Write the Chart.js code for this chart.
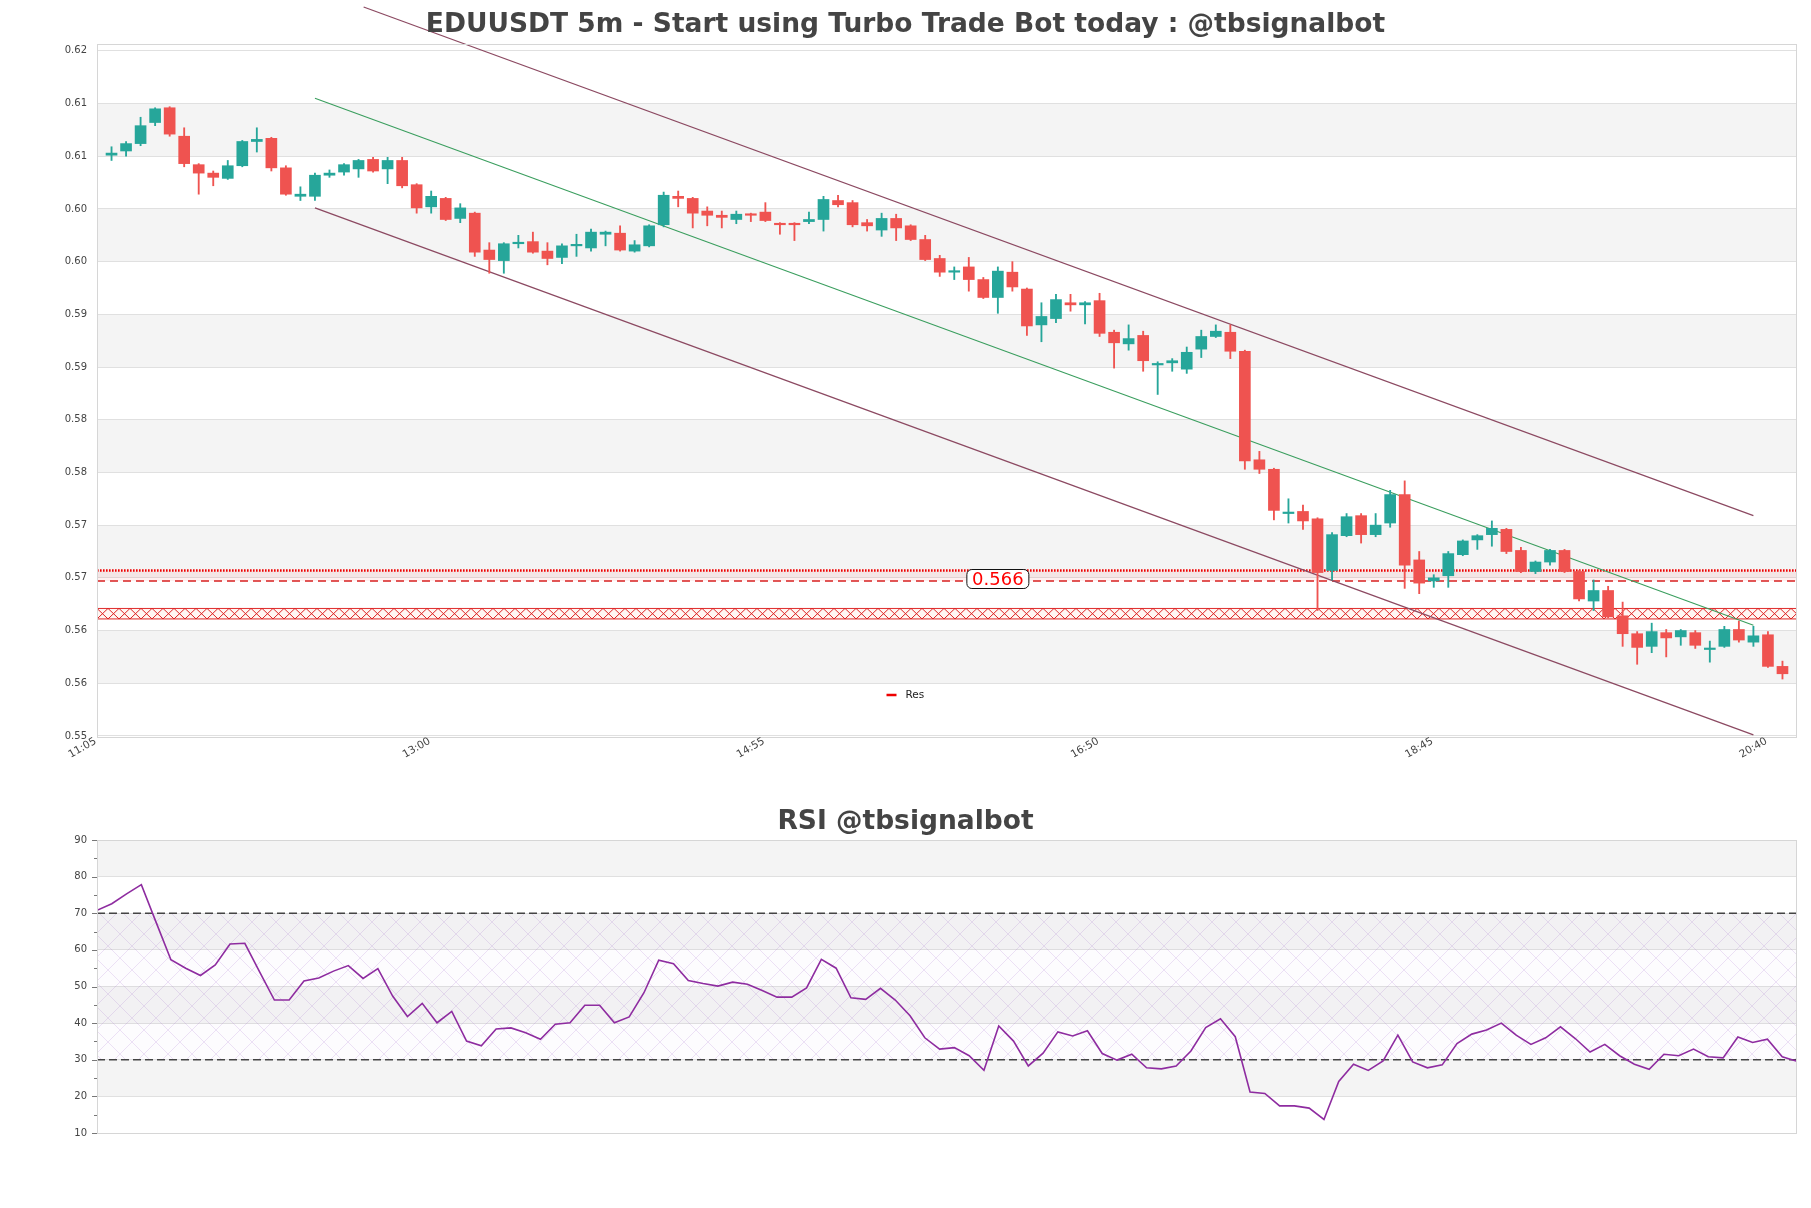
<!DOCTYPE html>
<html>
<head>
<meta charset="utf-8">
<script src="https://cdn.jsdelivr.net/npm/chart.js@4.4.1/dist/chart.umd.min.js"></script>
<style>
body{margin:0;background:#fff;}
canvas{display:block;position:absolute;left:0;}
</style>
</head>
<body>
<canvas id="main" width="1811" height="790" style="top:0"></canvas>
<canvas id="rsi" width="1811" height="418" style="top:790px"></canvas>
<script>
var UP = '#26a69a', DOWN = '#ef5350';

var mainTitle = 'EDUUSDT 5m - Start using Turbo Trade Bot today : @tbsignalbot';
var rsiTitle = 'RSI @tbsignalbot';

var openP = [0.6064,0.6068,0.6075,0.6095,0.6109,0.6082,0.6055,0.6047,0.6042,0.6054,
  0.6077,0.6080,0.6052,0.6025,0.6025,0.6045,0.6048,0.6051,0.6060,0.6051,
  0.6059,0.6036,0.6015,0.6023,0.6004,0.6009,0.5974,0.5964,0.5980,0.5982,
  0.5973,0.5967,0.5978,0.5976,0.5989,0.5990,0.5973,0.5978,0.5998,0.6025,
  0.6023,0.6011,0.6007,0.6003,0.6008,0.6010,0.5999,0.5999,0.6001,0.6003,
  0.6021,0.6019,0.6000,0.5993,0.6004,0.5997,0.5984,0.5966,0.5953,0.5958,
  0.5946,0.5929,0.5953,0.5937,0.5903,0.5909,0.5924,0.5922,0.5926,0.5896,
  0.5885,0.5893,0.5865,0.5867,0.5861,0.5880,0.5892,0.5896,0.5878,0.5775,
  0.5766,0.5724,0.5726,0.5719,0.5670,0.5703,0.5722,0.5704,0.5715,0.5742,
  0.5680,0.5660,0.5665,0.5685,0.5699,0.5704,0.5709,0.5689,0.5669,0.5678,
  0.5689,0.5669,0.5641,0.5651,0.5627,0.5610,0.5598,0.5611,0.5607,0.5611,
  0.5595,0.5598,0.5614,0.5602,0.5609,0.5579];
var highP = [0.6072,0.6077,0.6100,0.6109,0.6110,0.6090,0.6056,0.6049,0.6059,0.6078,
  0.6090,0.6081,0.6054,0.6034,0.6047,0.6050,0.6056,0.6060,0.6062,0.6062,
  0.6062,0.6037,0.6030,0.6024,0.6018,0.6010,0.5981,0.5981,0.5988,0.5991,
  0.5981,0.5980,0.5989,0.5994,0.5992,0.5997,0.5983,0.5998,0.6029,0.6030,
  0.6024,0.6015,0.6011,0.6011,0.6009,0.6019,0.6000,0.6000,0.6010,0.6025,
  0.6026,0.6021,0.6003,0.6009,0.6008,0.5998,0.5988,0.5969,0.5958,0.5967,
  0.5948,0.5958,0.5963,0.5938,0.5924,0.5932,0.5932,0.5925,0.5933,0.5898,
  0.5903,0.5897,0.5868,0.5871,0.5882,0.5898,0.5903,0.5903,0.5879,0.5783,
  0.5767,0.5738,0.5732,0.5720,0.5706,0.5724,0.5724,0.5724,0.5746,0.5755,
  0.5688,0.5666,0.5688,0.5699,0.5704,0.5717,0.5710,0.5692,0.5679,0.5690,
  0.5690,0.5670,0.5661,0.5655,0.5640,0.5612,0.5620,0.5614,0.5614,0.5613,
  0.5603,0.5617,0.5622,0.5617,0.5612,0.5584];
var lowP = [0.6059,0.6063,0.6073,0.6092,0.6082,0.6053,0.6027,0.6035,0.6041,0.6053,
  0.6067,0.6049,0.6026,0.6021,0.6021,0.6043,0.6045,0.6043,0.6048,0.6037,
  0.6033,0.6009,0.6009,0.6002,0.6000,0.5968,0.5952,0.5952,0.5976,0.5971,
  0.5960,0.5961,0.5968,0.5973,0.5978,0.5973,0.5972,0.5977,0.5996,0.6015,
  0.5995,0.5997,0.5995,0.5999,0.6001,0.6001,0.5989,0.5983,0.5999,0.5992,
  0.6015,0.5996,0.5992,0.5987,0.5983,0.5983,0.5964,0.5949,0.5946,0.5935,
  0.5928,0.5914,0.5935,0.5893,0.5887,0.5905,0.5916,0.5904,0.5892,0.5862,
  0.5879,0.5859,0.5837,0.5859,0.5857,0.5872,0.5891,0.5871,0.5766,0.5762,
  0.5718,0.5715,0.5709,0.5632,0.5661,0.5702,0.5696,0.5702,0.5711,0.5653,
  0.5648,0.5654,0.5654,0.5684,0.5690,0.5693,0.5686,0.5668,0.5667,0.5675,
  0.5668,0.5641,0.5632,0.5625,0.5598,0.5581,0.5592,0.5588,0.5599,0.5596,
  0.5583,0.5597,0.5602,0.5598,0.5578,0.5567];
var closeP = [0.6066,0.6075,0.6092,0.6108,0.6084,0.6056,0.6047,0.6043,0.6054,0.6077,
  0.6079,0.6052,0.6027,0.6027,0.6045,0.6047,0.6055,0.6059,0.6049,0.6059,
  0.6035,0.6014,0.6025,0.6003,0.6014,0.5972,0.5965,0.5980,0.5981,0.5972,
  0.5966,0.5978,0.5979,0.5991,0.5991,0.5974,0.5979,0.5997,0.6026,0.6023,
  0.6009,0.6007,0.6005,0.6008,0.6007,0.6002,0.5998,0.5998,0.6003,0.6022,
  0.6017,0.5998,0.5997,0.6004,0.5995,0.5984,0.5965,0.5953,0.5954,0.5946,
  0.5929,0.5954,0.5939,0.5902,0.5911,0.5927,0.5922,0.5924,0.5895,0.5886,
  0.5890,0.5869,0.5866,0.5869,0.5877,0.5892,0.5897,0.5878,0.5774,0.5766,
  0.5727,0.5725,0.5717,0.5668,0.5704,0.5721,0.5704,0.5713,0.5742,0.5675,
  0.5658,0.5663,0.5686,0.5698,0.5703,0.5710,0.5688,0.5669,0.5678,0.5689,
  0.5669,0.5643,0.5651,0.5626,0.5610,0.5597,0.5612,0.5606,0.5613,0.5599,
  0.5596,0.5614,0.5604,0.5608,0.5579,0.5572];

var rsiVals = [70.8,72.6,75.3,77.8,67.5,57.3,55.0,53.0,55.9,61.6,
  61.8,54.0,46.3,46.3,51.5,52.3,54.2,55.7,52.2,54.9,
  47.4,41.8,45.4,40.1,43.2,35.1,33.8,38.4,38.7,37.4,
  35.6,39.7,40.1,44.9,44.9,40.1,41.7,48.3,57.2,56.2,
  51.6,50.8,50.1,51.2,50.6,48.9,47.1,47.1,49.6,57.4,
  55.0,46.9,46.5,49.5,46.3,42.0,36.0,32.9,33.3,31.1,
  27.1,39.2,35.1,28.3,31.8,37.6,36.5,37.9,31.7,29.9,
  31.5,27.8,27.5,28.3,32.4,38.8,41.2,36.3,21.2,20.8,
  17.4,17.4,16.8,13.7,24.1,28.8,27.1,29.7,36.7,29.4,
  27.8,28.6,34.4,37.0,38.1,40.0,36.7,34.2,36.0,39.0,
  35.8,32.1,34.2,31.1,28.8,27.4,31.5,31.1,32.9,30.8,
  30.5,36.2,34.7,35.6,30.8,29.6];

var timeTickIdx = [-2, 21, 44, 67, 90, 113];
var timeTickLabels = ['11:05', '13:00', '14:55', '16:50', '18:45', '20:40'];
var priceTicks = [0.6163,0.6113,0.6063,0.6013,0.5963,0.5913,0.5863,0.5813,0.5763,0.5713,0.5663,0.5613,0.5563,0.5513];
var priceTickLabels = ['0.62','0.61','0.61','0.60','0.60','0.59','0.59','0.58','0.58','0.57','0.57','0.56','0.56','0.55'];
var rsiTicks = [10,15,20,25,30,35,40,45,50,55,60,65,70,75,80,85,90];
var rsiTickLabels = ['10','','20','','30','','40','','50','','60','','70','','80','','90'];

var resLevel = 0.566, resTop = 0.567, resZone = [0.5624, 0.5634];
var chanUpperX = [17.35, 113], chanUpper = [0.62046, 0.5722];
var chanX = [14, 113];
var chanMid = [0.6118, 0.5618];
var chanLower = [0.6014, 0.5514];
var resLabelAt = 61;
var rsiLow = 30, rsiHigh = 70;

Chart.defaults.font.family = '"DejaVu Sans"';
Chart.defaults.animation = false;

function candleColor(c) {
  var i = c.dataIndex;
  return closeP[i] >= openP[i] ? UP : DOWN;
}

function titlePlugin(text, y) {
  return {
    id: 'ttl',
    afterDraw: function(chart) {
      var c = chart.ctx;
      c.save();
      c.font = 'bold 26.5px "DejaVu Sans"';
      c.fillStyle = '#444';
      c.textAlign = 'center';
      c.textBaseline = 'middle';
      c.fillText(text, chart.width / 2, y);
      c.restore();
    }
  };
}

function frame(chart) {
  var c = chart.ctx, a = chart.chartArea;
  c.save();
  c.strokeStyle = '#d6d6d6';
  c.lineWidth = 1;
  c.strokeRect(a.left + 0.5, a.top + 0.5, a.right - a.left - 1, a.bottom - a.top);
  c.restore();
}

var mainPlugin = {
  id: 'levels',
  beforeDraw: function(chart) {
    var c = chart.ctx, a = chart.chartArea, y = chart.scales.y;
    c.save();
    c.fillStyle = '#f4f4f4';
    for (var k = 1; k + 1 < priceTicks.length; k += 2) {
      var y1 = y.getPixelForValue(priceTicks[k]), y2 = y.getPixelForValue(priceTicks[k + 1]);
      c.fillRect(a.left, y1, a.right - a.left, y2 - y1);
    }
    c.restore();
  },
  beforeDatasetsDraw: function(chart) {
    var c = chart.ctx, a = chart.chartArea, y = chart.scales.y;
    var w = a.right - a.left;
    var yTop = y.getPixelForValue(resTop), yRes = y.getPixelForValue(resLevel);
    var z1 = y.getPixelForValue(resZone[1]), z0 = y.getPixelForValue(resZone[0]);
    c.save();
    c.fillStyle = 'rgba(255,0,0,0.06)';
    c.fillRect(a.left, yTop, w, yRes - yTop);

    // hatched zone
    c.save();
    c.beginPath();
    c.rect(a.left, z1 - 1, w, z0 - z1 + 2);
    c.clip();
    c.fillStyle = 'rgba(255,190,170,0.14)';
    c.fillRect(a.left, z1, w, z0 - z1);
    c.strokeStyle = '#dd2222';
    c.lineWidth = 1;
    c.beginPath();
    c.moveTo(a.left, z1); c.lineTo(a.right, z1);
    c.moveTo(a.left, z0); c.lineTo(a.right, z0);
    for (var x = a.left; x < a.right; x += 11) {
      c.moveTo(x, z1); c.lineTo(x + 11, z0);
      c.moveTo(x, z0); c.lineTo(x + 11, z1);
    }
    c.stroke();
    c.restore();

    c.strokeStyle = '#e00';
    c.lineWidth = 2.6;
    c.setLineDash([1.6, 1.4]);
    c.beginPath(); c.moveTo(a.left, yTop); c.lineTo(a.right, yTop); c.stroke();

    c.strokeStyle = '#d82020';
    c.lineWidth = 1.4;
    c.setLineDash([8, 5]);
    c.beginPath(); c.moveTo(a.left, yRes); c.lineTo(a.right, yRes); c.stroke();
    c.restore();
  },
  afterDatasetsDraw: function(chart) {
    var c = chart.ctx, a = chart.chartArea, x = chart.scales.x, y = chart.scales.y;
    var cx = x.getPixelForValue(resLabelAt), cy = y.getPixelForValue(resLevel) - 2;
    var bw = 62, bh = 19, r = 5;
    var l = cx - bw / 2, t = cy - bh / 2;
    c.save();
    c.beginPath();
    c.moveTo(l + r, t);
    c.arcTo(l + bw, t, l + bw, t + bh, r);
    c.arcTo(l + bw, t + bh, l, t + bh, r);
    c.arcTo(l, t + bh, l, t, r);
    c.arcTo(l, t, l + bw, t, r);
    c.closePath();
    c.fillStyle = '#fff';
    c.fill();
    c.strokeStyle = '#111';
    c.lineWidth = 1;
    c.stroke();
    c.fillStyle = '#f00';
    c.font = '18px "DejaVu Sans"';
    c.textAlign = 'center';
    c.textBaseline = 'middle';
    c.fillText(resLevel.toFixed(3), cx, cy + 1);

    // legend
    var lx = chart.width / 2, ly = a.bottom - 42;
    c.strokeStyle = '#e00';
    c.lineWidth = 2.5;
    c.beginPath(); c.moveTo(lx - 19, ly); c.lineTo(lx - 9, ly); c.stroke();
    c.fillStyle = '#222';
    c.font = '10.5px "DejaVu Sans"';
    c.textAlign = 'left';
    c.fillText('Res', lx, ly);
    c.restore();
  },
  afterDraw: function(chart) {
    frame(chart);
    var c = chart.ctx, a = chart.chartArea, x = chart.scales.x;
    c.save();
    c.font = '10.5px "DejaVu Sans"';
    c.fillStyle = '#444';
    c.textAlign = 'center';
    c.textBaseline = 'middle';
    for (var k = 0; k < timeTickIdx.length; k++) {
      c.save();
      c.translate(x.getPixelForValue(timeTickIdx[k]), a.bottom + 11);
      c.rotate(-Math.PI / 6);
      c.fillText(timeTickLabels[k], 0, 0);
      c.restore();
    }
    c.restore();
  }
};

var bodies = [], wicks = [];
for (var i = 0; i < openP.length; i++) {
  bodies.push({x: i, y: [openP[i], closeP[i]]});
  wicks.push({x: i, y: [lowP[i], highP[i]]});
}
function seg(xs, vals) {
  return [{x: xs[0], y: vals[0]}, {x: xs[1], y: vals[1]}];
}

new Chart(document.getElementById('main'), {
  type: 'bar',
  data: {
    datasets: [
      {type: 'bar', data: bodies, backgroundColor: candleColor, barThickness: 11, grouped: false, minBarLength: 1.5, borderWidth: 0},
      {type: 'bar', data: wicks, backgroundColor: candleColor, barThickness: 1.2, grouped: false, borderWidth: 0},
      {type: 'line', data: seg(chanUpperX, chanUpper), borderColor: '#8c4a62', borderWidth: 1.3, pointRadius: 0, clip: false},
      {type: 'line', data: seg(chanX, chanMid), borderColor: '#3a9e5e', borderWidth: 1.1, pointRadius: 0, clip: false},
      {type: 'line', data: seg(chanX, chanLower), borderColor: '#8c4a62', borderWidth: 1.3, pointRadius: 0, clip: false}
    ]
  },
  options: {
    responsive: false,
    devicePixelRatio: 1,
    layout: {padding: {top: 44, right: 14, bottom: 53, left: 0}},
    plugins: {legend: {display: false}, tooltip: {enabled: false}, title: {display: false}},
    scales: {
      x: {type: 'linear', min: -1, max: 116, offset: false, display: false},
      y: {
        min: 0.5512, max: 0.61695,
        afterBuildTicks: function(s) { s.ticks = priceTicks.map(function(v) { return {value: v}; }); },
        afterFit: function(s) { s.width = 97; },
        ticks: {autoSkip: false, padding: 10, color: '#444', font: {size: 10},
          callback: function(v, idx) { return priceTickLabels[idx]; }},
        grid: {color: '#e0e0e0', drawTicks: false},
        border: {display: false}
      }
    }
  },
  plugins: [mainPlugin, titlePlugin(mainTitle, 25.5)]
});

var hatch = document.createElement('canvas');
hatch.width = 24; hatch.height = 24;
var hc = hatch.getContext('2d');
hc.strokeStyle = 'rgba(165,115,205,0.26)';
hc.lineWidth = 0.8;
hc.beginPath();
hc.moveTo(0, 0); hc.lineTo(24, 24);
hc.moveTo(0, 24); hc.lineTo(24, 0);
hc.stroke();

var rsiPlugin = {
  id: 'rsiBands',
  beforeDraw: function(chart) {
    var c = chart.ctx, a = chart.chartArea, y = chart.scales.y;
    c.save();
    c.fillStyle = '#f4f4f4';
    for (var k = rsiTicks.length - 1; k >= 4; k -= 4) {
      var y1 = y.getPixelForValue(rsiTicks[k]), y2 = y.getPixelForValue(rsiTicks[k - 2]);
      c.fillRect(a.left, y1, a.right - a.left, y2 - y1);
    }
    c.restore();
  },
  beforeDatasetsDraw: function(chart) {
    var c = chart.ctx, a = chart.chartArea, y = chart.scales.y;
    var yh = y.getPixelForValue(rsiHigh), yl = y.getPixelForValue(rsiLow);
    c.save();
    c.fillStyle = 'rgba(150,80,180,0.02)';
    c.fillRect(a.left, yh, a.right - a.left, yl - yh);
    c.fillStyle = c.createPattern(hatch, 'repeat');
    c.fillRect(a.left, yh, a.right - a.left, yl - yh);
    c.strokeStyle = '#444';
    c.lineWidth = 1.3;
    c.setLineDash([8, 4]);
    c.beginPath();
    c.moveTo(a.left, yh); c.lineTo(a.right, yh);
    c.moveTo(a.left, yl); c.lineTo(a.right, yl);
    c.stroke();
    c.restore();
  },
  afterDraw: function(chart) {
    frame(chart);
    var c = chart.ctx, a = chart.chartArea, y = chart.scales.y;
    c.save();
    c.strokeStyle = '#777';
    c.lineWidth = 1;
    c.beginPath();
    for (var k = 0; k < rsiTicks.length; k++) {
      var py = Math.round(y.getPixelForValue(rsiTicks[k])) + 0.5;
      var len = rsiTickLabels[k] ? 5 : 3;
      c.moveTo(a.left - len, py); c.lineTo(a.left, py);
    }
    c.stroke();
    c.restore();
  }
};

new Chart(document.getElementById('rsi'), {
  type: 'line',
  data: {
    datasets: [{
      data: rsiVals.map(function(v, i) { return {x: i, y: v}; }),
      borderColor: '#8e2ca0', borderWidth: 1.6, pointRadius: 0, tension: 0
    }]
  },
  options: {
    responsive: false,
    devicePixelRatio: 1,
    layout: {padding: {top: 50, right: 14, bottom: 75, left: 0}},
    plugins: {legend: {display: false}, tooltip: {enabled: false}, title: {display: false}},
    scales: {
      x: {type: 'linear', min: 0, max: rsiVals.length - 1, display: false},
      y: {
        min: 10, max: 90,
        afterBuildTicks: function(s) { s.ticks = rsiTicks.map(function(v) { return {value: v}; }); },
        afterFit: function(s) { s.width = 97; },
        ticks: {autoSkip: false, padding: 10, color: '#444', font: {size: 10},
          callback: function(v, idx) { return rsiTickLabels[idx]; }},
        grid: {drawTicks: false, color: function(c) { return c.tick && c.tick.value % 10 === 0 ? '#e0e0e0' : 'rgba(0,0,0,0)'; }},
        border: {display: false}
      }
    }
  },
  plugins: [rsiPlugin, titlePlugin(rsiTitle, 32.5)]
});
</script>
</body>
</html>
